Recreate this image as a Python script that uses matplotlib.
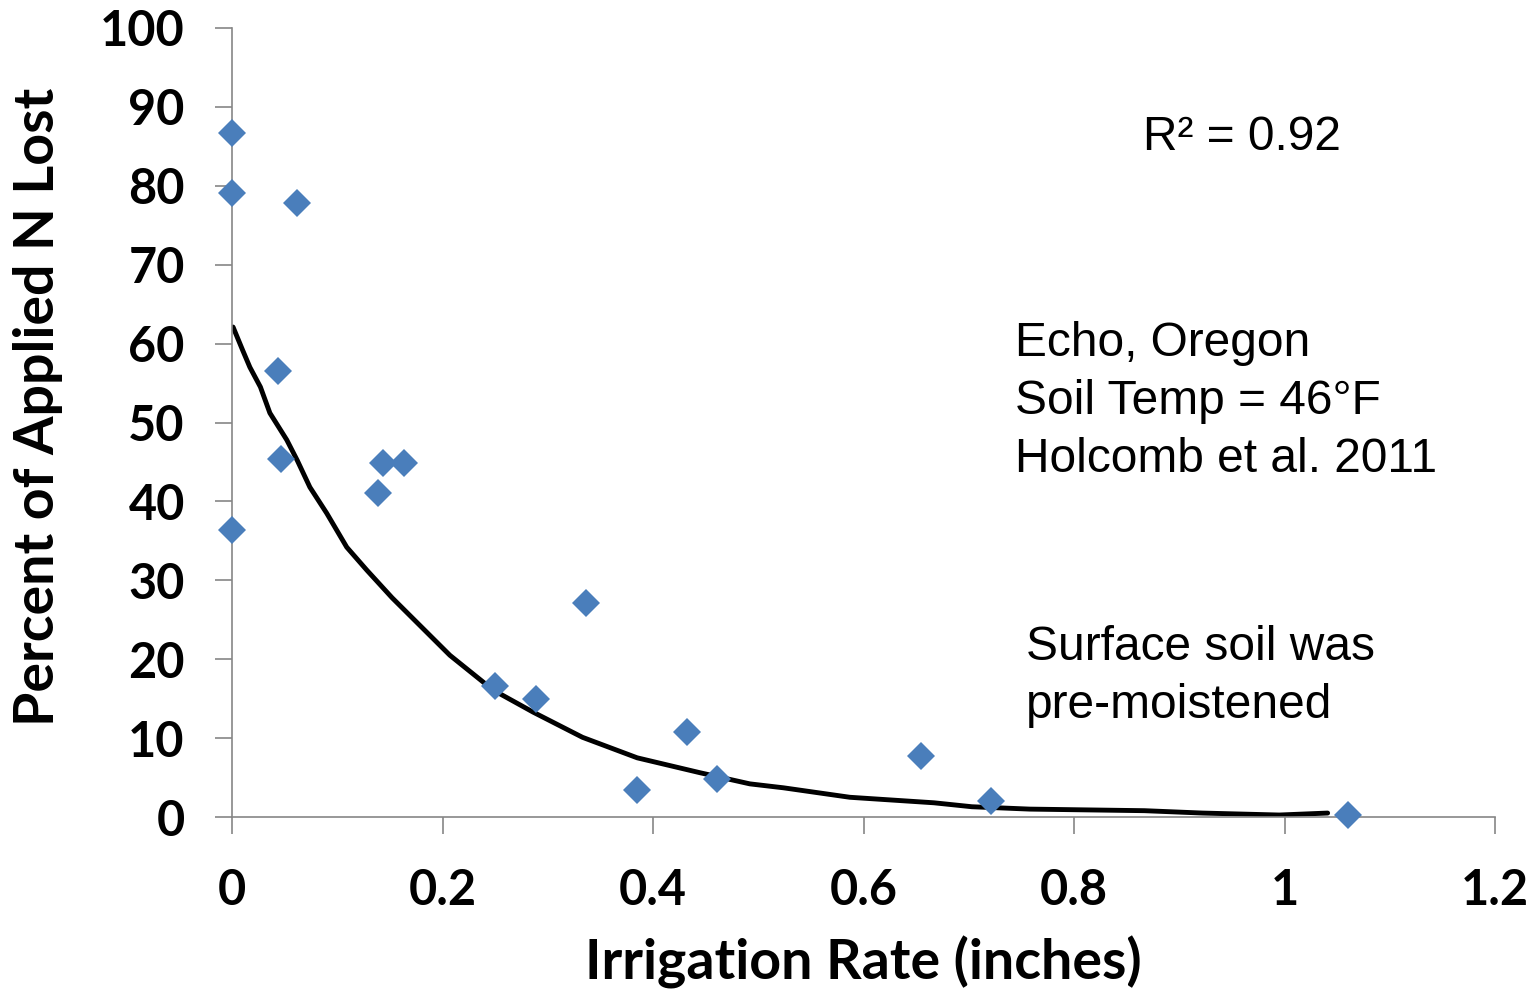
import matplotlib
matplotlib.use("Agg")
import matplotlib.pyplot as plt

# measured points (irrigation rate in inches, percent of applied N lost)
irrigation = [0.0, 0.0, 0.062, 0.044, 0.047, 0.0, 0.139, 0.143, 0.163,
              0.250, 0.289, 0.336, 0.385, 0.432, 0.461, 0.655, 0.721, 1.060]
n_lost = [86.7, 79.1, 77.8, 56.5, 45.4, 36.4, 41.1, 44.9, 44.9,
          16.6, 15.0, 27.1, 3.4, 10.8, 4.8, 7.7, 2.0, 0.25]

# trend line
trend_x = [0.001, 0.010, 0.017, 0.027, 0.036, 0.052, 0.062, 0.074, 0.090,
           0.109, 0.128, 0.152, 0.207, 0.248, 0.286, 0.333, 0.385, 0.445,
           0.492, 0.524, 0.587, 0.667, 0.703, 0.758, 0.867, 0.922, 0.995, 1.041]
trend_y = [62.1, 59.2, 57.0, 54.5, 51.2, 47.8, 45.2, 41.8, 38.5,
           34.2, 31.3, 27.8, 20.5, 16.1, 13.3, 10.1, 7.5, 5.6,
           4.2, 3.7, 2.5, 1.8, 1.3, 1.0, 0.8, 0.5, 0.25, 0.5]

x_ticks = [0, 0.2, 0.4, 0.6, 0.8, 1.0, 1.2]
x_tick_labels = ["0", "0.2", "0.4", "0.6", "0.8", "1", "1.2"]
y_ticks = list(range(0, 101, 10))

W, H = 1538, 991
fig = plt.figure(figsize=(W / 100, H / 100), dpi=100)
ax = fig.add_axes([232 / W, 1 - 817 / H, (1495 - 232) / W, (817 - 28) / H])

ax.plot(trend_x, trend_y, color="black", lw=3.5, zorder=2,
        solid_joinstyle="round", solid_capstyle="round")
ax.plot(irrigation, n_lost, linestyle="none", marker="D", markersize=14,
        color="#4a7ebb", markeredgewidth=0, zorder=3, clip_on=False)

ax.set_xlim(0, 1.2)
ax.set_ylim(0, 100)
ax.set_xticks(x_ticks)
ax.set_xticklabels(x_tick_labels)
ax.set_yticks(y_ticks)

for side in ["top", "right"]:
    ax.spines[side].set_visible(False)
for side in ["left", "bottom"]:
    ax.spines[side].set_color("#868686")
    ax.spines[side].set_linewidth(1.2)

ax.tick_params(axis="both", direction="out", length=12, width=1.2, color="#868686")
ax.tick_params(axis="y", pad=22)
ax.tick_params(axis="x", pad=25)
for lab in ax.get_xticklabels() + ax.get_yticklabels():
    lab.set_fontfamily("Lato")
    lab.set_fontweight("bold")
    lab.set_fontsize(35)

label_font = {"family": "Lato", "weight": "bold", "size": 40}
fig.text(38 / W, 1 - 407 / H, "Percent of Applied N Lost", rotation=90,
         ha="center", va="center", **label_font)
fig.text(863 / W, 1 - 962 / H, "Irrigation Rate (inches)",
         ha="center", va="center", **label_font)

ann = {"family": "Liberation Sans", "size": 34.5, "color": "black"}
fig.text(1143 / W, 1 - 137 / H, "R² = 0.92", ha="left", va="center", **ann)
fig.text(1015 / W, 1 - 343 / H, "Echo, Oregon", ha="left", va="center", **ann)
fig.text(1015 / W, 1 - 401 / H, "Soil Temp = 46°F", ha="left", va="center", **ann)
fig.text(1015 / W, 1 - 459 / H, "Holcomb et al. 2011", ha="left", va="center", **ann)
fig.text(1026 / W, 1 - 648 / H, "Surface soil was", ha="left", va="center", **ann)
fig.text(1026 / W, 1 - 706 / H, "pre-moistened", ha="left", va="center", **ann)

fig.savefig("out.png", dpi=100)
